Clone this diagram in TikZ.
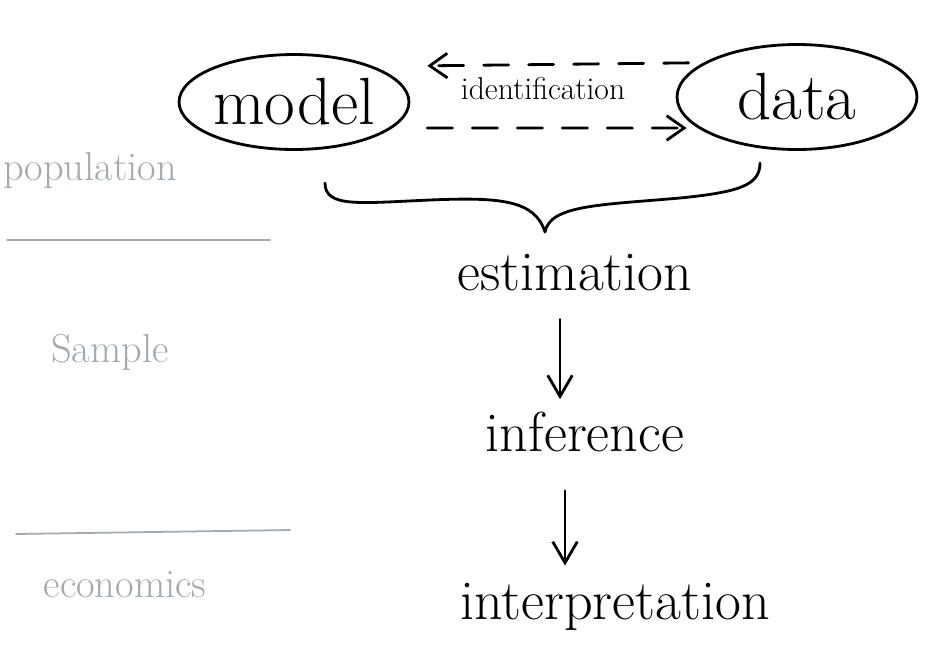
\documentclass[tikz,border=0pt]{standalone}
\usepackage{tikz}
\usetikzlibrary{positioning,arrows.meta,shapes.geometric}
\definecolor{pencil}{RGB}{160,170,176}

\begin{document}
\begin{tikzpicture}[x=0.02cm, y=-0.02cm,
  pen/.style={line width=1.6pt, black, line cap=round, line join=round},
  blob/.style={pen, draw, ellipse, minimum width=#1, minimum height=1.9cm, inner sep=0pt, font=\fontsize{38}{40}\selectfont},
  blob/.default=4.6cm,
  word/.style={font=\fontsize{32}{36}\selectfont, inner sep=2pt},
  note/.style={text=pencil, font=\fontsize{23}{26}\selectfont, inner sep=2pt},
  divider/.style={draw=pencil, line width=1pt, line cap=round},
  dasharrow/.style={pen, dash pattern=on 0.5cm off 0.4cm, -{Straight Barb[length=10pt,width=14pt]}},
  down/.style={pen, -{Straight Barb[length=12pt,width=14pt]}}]
  \useasboundingbox (0,0) rectangle (926,657);
  % population / sample / economics
  \node[note] (pop) at (90,170) {population};
  \node[note] (smp) at (110,352) {Sample};
  \node[note] (eco) at (125,585) {economics};
  \draw[divider] (7,240) -- (270,240);
  \draw[divider] (16,534) -- (290,530);
  % model and data
  \node[blob] (model) at (294,102) {model};
  \node[blob=4.8cm, minimum height=2.1cm] (data) at (797,97) {data};
  \draw[dasharrow, shorten <=-0.26cm, shorten >=0.34cm] ([yshift=0.68cm]data.west) -- ([yshift=0.72cm]model.east)
    node[midway, below=0.12cm, font=\fontsize{18}{20}\selectfont] (ident) {identification};
  \draw[dasharrow, shorten <=0.34cm, shorten >=-0.22cm] ([yshift=-0.52cm]model.east) -- ([yshift=-0.62cm]data.west);
  % brace
  \draw[pen] (325,183) .. controls (325,208) and (360,203) .. (430,200)
    .. controls (500,197) and (535,200) .. (545,232)
    .. controls (550,205) and (600,205) .. (680,198)
    .. controls (740,192) and (760,185) .. (760,163);
  % steps
  \node[word] (est) at (575,273) {estimation};
  \node[word] (inf) at (585,432) {inference};
  \node[word] (intp) at (615,607) {interpretation};
  \draw[down, shorten <=0.48cm, shorten >=0.18cm] ([xshift=-0.3cm]est.south) -- ([xshift=-0.3cm]est.south |- inf.north);
  \draw[down, shorten <=0.7cm, shorten >=0.28cm] ([xshift=-0.4cm]inf.south) -- ([xshift=-0.4cm]inf.south |- intp.north);
\end{tikzpicture}
\end{document}
